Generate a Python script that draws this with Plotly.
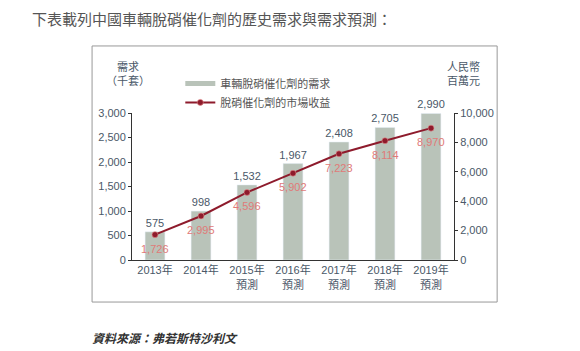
import plotly.graph_objects as go

categories = ["2013年", "2014年", "2015年<br>預測", "2016年<br>預測", "2017年<br>預測", "2018年<br>預測", "2019年<br>預測"]
demand = [575, 998, 1532, 1967, 2408, 2705, 2990]
revenue = [1726, 2995, 4596, 5902, 7223, 8114, 8970]
bar_name = "車輛脫硝催化劑的需求"
line_name = "脫硝催化劑的市場收益"
title_text = "下表載列中國車輛脫硝催化劑的歷史需求與需求預測："
source_text = "資料來源：弗若斯特沙利文"

FONT = "Liberation Sans, Noto Sans CJK TC, sans-serif"
AX = "#4a5868"
BAR = "#b9c3b9"
LINE = "#8e1b2c"
LBL = "#e07a78"

fig = go.Figure()
fig.add_trace(go.Bar(
    x=categories, y=demand, name=bar_name, marker_color=BAR, width=0.43,
    text=[f"{v:,}" for v in demand], textposition="outside", constraintext="none",
    textfont=dict(color=AX, size=11, family=FONT), cliponaxis=False,
    showlegend=False, yaxis="y"))
fig.add_trace(go.Scatter(
    x=[None], y=[None], mode="lines", name=bar_name,
    line=dict(color=BAR, width=5), showlegend=True))
fig.add_trace(go.Scatter(
    x=categories, y=revenue, name=line_name, yaxis="y2", mode="lines+markers",
    line=dict(color=LINE, width=2),
    marker=dict(color=LINE, size=6, line=dict(color="rgba(230,140,140,0.6)", width=1)),
    cliponaxis=False))

for c, v in zip(categories, revenue):
    fig.add_annotation(x=c, y=v, xref="x", yref="y2", text=f"{v:,}", showarrow=False,
                       yshift=-14, font=dict(color=LBL, size=11, family=FONT))

fig.update_layout(
    width=580, height=351,
    margin=dict(l=132, r=126, t=113, b=91),
    paper_bgcolor="white", plot_bgcolor="white",
    font=dict(family=FONT, color=AX, size=11),
    xaxis=dict(showline=True, linecolor="#333", linewidth=1, ticks="",
               tickfont=dict(size=11, color=AX), showgrid=False),
    yaxis=dict(range=[0, 3000], dtick=500, tickformat=",", showline=True, linecolor="#333",
               ticks="outside", ticklen=3, tickcolor="#333", showgrid=False, zeroline=False,
               tickfont=dict(size=11, color=AX)),
    yaxis2=dict(range=[0, 10000], dtick=2000, tickformat=",", overlaying="y", side="right",
                showline=True, linecolor="#333", ticks="outside", ticklen=3, tickcolor="#333",
                showgrid=False, zeroline=False, tickfont=dict(size=11, color=AX)),
    legend=dict(x=0.15, y=1.30, xanchor="left", yanchor="top", bgcolor="rgba(0,0,0,0)",
                font=dict(size=11, color="#555"), tracegroupgap=0, itemwidth=30),
    showlegend=True,
)

fig.add_shape(type="rect", xref="paper", yref="paper", x0=-0.124, x1=1.134, y0=-0.286, y1=1.456,
              line=dict(color="#999", width=1), layer="below")

fig.add_annotation(xref="paper", yref="paper", x=-0.012, y=1.16, xanchor="center", yanchor="bottom",
                   text="需求<br>（千套）", showarrow=False, font=dict(size=11, color=AX))
fig.add_annotation(xref="paper", yref="paper", x=1.03, y=1.16, xanchor="center", yanchor="bottom",
                   text="人民幣<br>百萬元", showarrow=False, font=dict(size=11, color=AX))
fig.add_annotation(xref="paper", yref="paper", x=-0.317, y=1.633, xanchor="left", yanchor="middle",
                   text=title_text, showarrow=False, font=dict(size=15, color="#555"))
fig.add_annotation(xref="paper", yref="paper", x=-0.13, y=-0.537, xanchor="left", yanchor="middle",
                   text="<b><i>" + source_text + "</i></b>", showarrow=False,
                   font=dict(size=12, color="#333"))

fig.write_html("out.html")
